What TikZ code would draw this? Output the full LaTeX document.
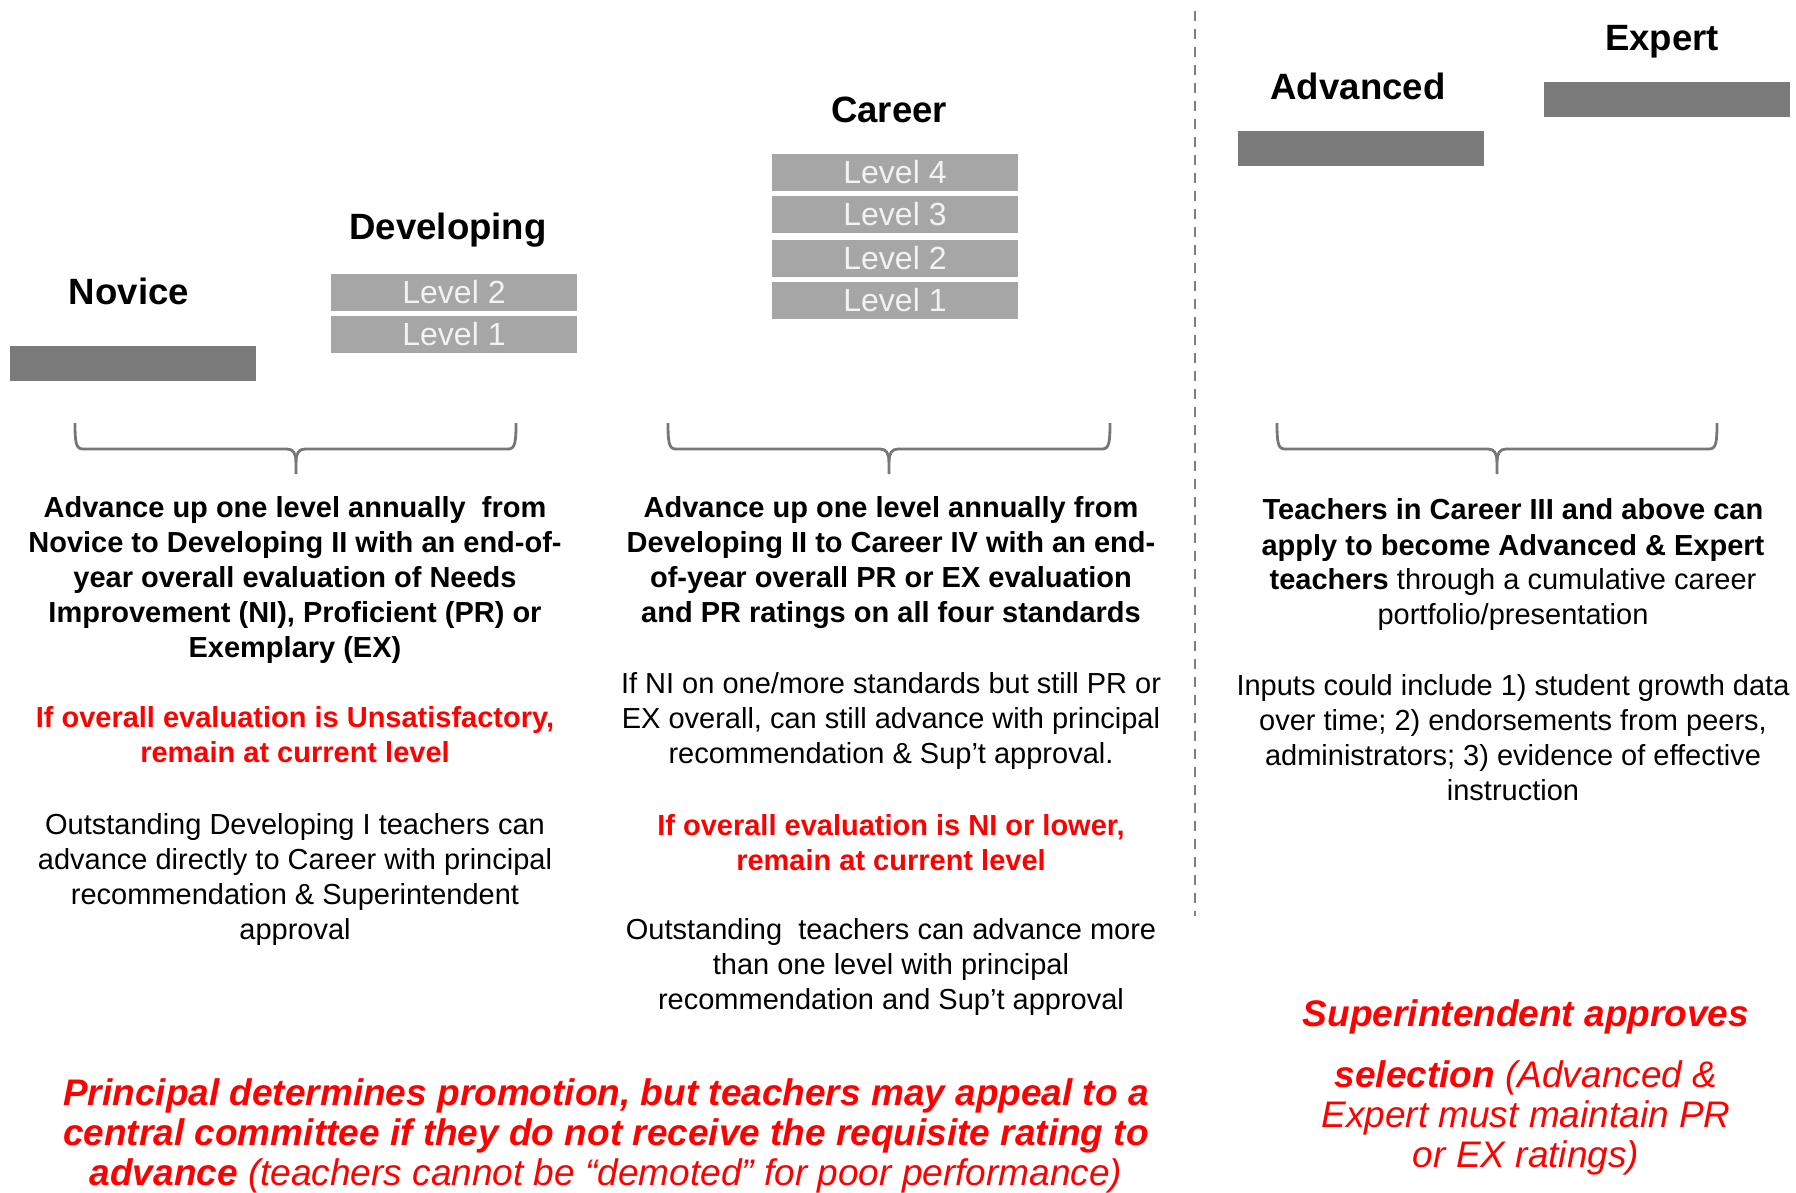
\documentclass[tikz,border=0pt]{standalone}
\usepackage{fontspec}
\setmainfont{Liberation Sans}
\usetikzlibrary{positioning}

\definecolor{bargray}{HTML}{7A7A7A}
\definecolor{levelgray}{HTML}{A6A6A6}
\definecolor{bracegray}{HTML}{777777}
\definecolor{alertred}{HTML}{FF0000}

\begin{document}
\begin{tikzpicture}[x=0.5pt, y=-0.5pt,
  title/.style={font=\fontsize{18.3pt}{22pt}\selectfont\bfseries, inner sep=0pt, anchor=base},
  bar/.style={fill=bargray, minimum width=123pt, minimum height=17.5pt, inner sep=0pt},
  level/.style={fill=levelgray, text=white!95!black, minimum width=123pt, minimum height=18.5pt,
    inner sep=0pt, font=\fontsize{16pt}{18pt}\selectfont},
  body/.style={align=center, inner sep=0pt, font=\fontsize{14.5pt}{17.5pt}\selectfont},
  note/.style={body, text=alertred, font=\fontsize{14.5pt}{17.5pt}\selectfont\bfseries},
  callout/.style={align=center, inner sep=0pt, text=alertred},
  bracket/.style={draw=bracegray, line width=1.4pt, line join=round},
  divider/.style={draw=gray, line width=1.2pt, dash pattern=on 5pt off 4pt}
]
\useasboundingbox (0,0) rectangle (1796,1193);

% Tiers and their level bars
\node[bar] (novicebar) at (133,363.5) {};
\node[title] (novice) at (129,304) {Novice};

\node[level] (dev2) at (454,292.5) {Level 2};
\node[level] (dev1) at (454,334.5) {Level 1};
\node[title] (developing) at (448,240) {Developing};

\foreach \n/\y in {4/172.5, 3/214.5, 2/258.5, 1/300.5}
  \node[level] (car\n) at (895,\y) {Level \n};
\node[title] (career) at (889,123) {Career};

\node[bar] (advancedbar) at (1361,148.5) {};
\node[title] (advanced) at (1358,100) {Advanced};
\node[bar] (expertbar) at (1667,99.5) {};
\node[title] (expert) at (1662,51) {Expert};

% Divider between the regular and the applied tiers
\coordinate (divtop) at (1195,11);
\coordinate (divbot) at (1195,916);
\draw[divider] (divtop) -- (divbot);

% Braces under each group
\foreach \l/\m/\r in {75/296/516, 668/889/1110, 1277/1497/1717}{
  \draw[bracket] (\l,423) .. controls (\l,443) and (\l+1,449) .. (\l+8,449) -- (\m-9,449)
    .. controls (\m-3,449) and (\m,453) .. (\m,462) -- (\m,474);
  \draw[bracket] (\r,423) .. controls (\r,443) and (\r-1,449) .. (\r-8,449) -- (\m+9,449)
    .. controls (\m+3,449) and (\m,453) .. (\m,462);
}

% Novice to Developing
\node[body, font=\fontsize{14.5pt}{17.5pt}\selectfont\bfseries] (rule1) at (295,580)
  {Advance up one level annually\ \ from\\ Novice to Developing II with an end-of-\\
   year overall evaluation of Needs\\ Improvement (NI), Proficient (PR) or\\ Exemplary (EX)};
\node[note] (stay1) at (295,735)
  {If overall evaluation is Unsatisfactory,\\ remain at current level};
\node[body] (skip1) at (295,879)
  {Outstanding Developing I teachers can\\ advance directly to Career with principal\\
   recommendation \& Superintendent\\ approval};

% Developing to Career
\node[body, font=\fontsize{14.5pt}{17.5pt}\selectfont\bfseries] (rule2) at (891,563)
  {Advance up one level annually from\\ Developing II to Career IV with an end-\\
   of-year overall PR or EX evaluation\\ and PR ratings on all four standards};
\node[body] (except2) at (891,721)
  {If NI on one/more standards but still PR or\\ EX overall, can still advance with principal\\
   recommendation \& Sup’t approval.};
\node[note] (stay2) at (891,842.5)
  {If overall evaluation is NI or lower,\\ remain at current level};
\node[body] (skip2) at (891,966.5)
  {Outstanding\ \ teachers can advance more\\ than one level with principal\\
   recommendation and Sup’t approval};

% Advanced and Expert
\node[body] (apply) at (1513,565)
  {\textbf{Teachers in Career III and above can}\\ \textbf{apply to become Advanced \& Expert}\\
   \textbf{teachers} through a cumulative career\\ portfolio/presentation};
\node[body] (inputs) at (1513,737.5)
  {Inputs could include 1) student growth data\\ over time; 2) endorsements from peers,\\
   administrators; 3) evidence of effective\\ instruction};

\node[callout, font=\fontsize{18.5pt}{20pt}\selectfont\itshape] (approve) at (1526,1017)
  {\textbf{Superintendent approves}};
\node[callout, font=\fontsize{18.5pt}{20pt}\selectfont\itshape] (select) at (1526,1118)
  {\textbf{selection} (Advanced \&\\ Expert must maintain PR\\ or EX ratings)};

\node[callout, font=\fontsize{18.5pt}{20pt}\selectfont\itshape] (appeal) at (606,1136)
  {\textbf{Principal determines promotion, but teachers may appeal to a}\\
   \textbf{central committee if they do not receive the requisite rating to}\\
   \textbf{advance} (teachers cannot be “demoted” for poor performance)};

\end{tikzpicture}
\end{document}
